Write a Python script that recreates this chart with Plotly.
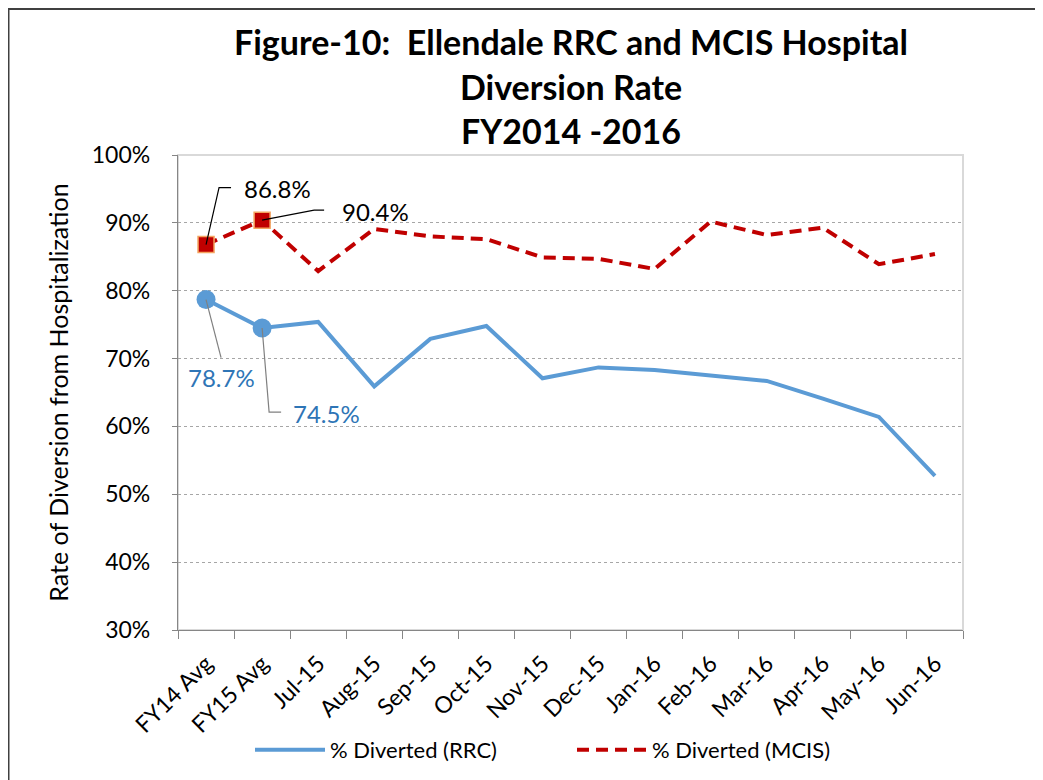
import plotly.graph_objects as go

categories = ["FY14 Avg", "FY15 Avg", "Jul-15", "Aug-15", "Sep-15", "Oct-15", "Nov-15",
              "Dec-15", "Jan-16", "Feb-16", "Mar-16", "Apr-16", "May-16", "Jun-16"]
rrc = [78.7, 74.5, 75.4, 65.9, 72.9, 74.8, 67.1, 68.7, 68.3, 67.5, 66.7, 64.1, 61.4, 52.7]
mcis = [86.8, 90.4, 82.9, 89.1, 88.0, 87.6, 84.9, 84.7, 83.2, 90.2, 88.2, 89.3, 83.9, 85.4]
y_ticks = [30, 40, 50, 60, 70, 80, 90, 100]
title_lines = ["Figure-10:\u00a0 Ellendale RRC and MCIS Hospital", "Diversion Rate", "FY2014 -2016"]

BLUE = "#5B9BD5"
RED = "#C00000"
FONT = "Lato"

# page body has an 8px margin; figure is sized/positioned to compensate
OFF = 8
W, H = 1043 - OFF, 780 - OFF
L, T = 178 - OFF, 155 - OFF
PW, PH = 785, 475
R, B = W - L - PW, H - T - PH


def py(abs_y):
    """absolute page y (px) -> paper y"""
    return 1 - (abs_y - OFF - T) / PH


def px(abs_x):
    return (abs_x - OFF - L) / PW


fig = go.Figure()
fig.add_trace(go.Scatter(x=categories, y=rrc, mode="lines", name="% Diverted (RRC)",
                         line=dict(color=BLUE, width=4)))
fig.add_trace(go.Scatter(x=categories, y=mcis, mode="lines", name="% Diverted (MCIS)",
                         line=dict(color=RED, width=4, dash="12px,7px")))
fig.add_trace(go.Scatter(x=categories[:2], y=rrc[:2], mode="markers", showlegend=False,
                         marker=dict(symbol="circle", size=19, color=BLUE)))
fig.add_trace(go.Scatter(x=categories[:2], y=mcis[:2], mode="markers", showlegend=False,
                         marker=dict(symbol="square", size=16, color=RED,
                                     line=dict(color="#F4A460", width=1.5))))

labels = [
    (mcis, 0, "#000000", "#000000", "M0,0 L13,57 L25,57", 36, 56, "left"),
    (mcis, 1, "#000000", "#000000", "M0,0 L52,10 L62,10", 78, 9, "left"),
    (rrc, 0, "#2E75B6", "#808080", "M0,0 L15,-58", 15, -78, "center"),
    (rrc, 1, "#2E75B6", "#808080", "M0,0 L7,-84 L19,-84", 29, -85, "left"),
]
shapes = []
annotations = []
for vals, i, tcol, lcol, path, xs, ys, xa in labels:
    shapes.append(dict(type="path", xref="x", yref="y", xsizemode="pixel", ysizemode="pixel",
                       xanchor=categories[i], yanchor=vals[i], path=path,
                       line=dict(color=lcol, width=1.2), layer="above"))
    annotations.append(dict(x=categories[i], y=vals[i], xref="x", yref="y", showarrow=False,
                            text=f"{vals[i]:.1f}%", xshift=xs, yshift=ys, xanchor=xa,
                            yanchor="middle", font=dict(family=FONT, size=24, color=tcol)))

# title lines
for txt, yc in zip(title_lines, [41, 86, 130]):
    annotations.append(dict(x=0.5, y=py(yc), xref="paper", yref="paper", showarrow=False,
                            text=txt, xanchor="center", yanchor="middle",
                            font=dict(family=FONT, size=34, color="#000000", weight="bold")))

# plot area border (light gray)
shapes.append(dict(type="rect", xref="paper", yref="paper", x0=0, x1=1, y0=0, y1=1,
                   line=dict(color="#D9D9D9", width=2), layer="below"))
# outer chart border (top and left visible)
bx = px(8.5)
by_top = py(OFF + 1)
by_bot = py(800)
bx_right = px(1050)
shapes.append(dict(type="path", xref="paper", yref="paper",
                   path=f"M{bx},{by_bot} L{bx},{by_top} L{bx_right},{by_top}",
                   line=dict(color="#404040", width=2)))

fig.update_layout(
    width=W, height=H,
    margin=dict(l=L, r=R, t=T, b=B, autoexpand=False),
    paper_bgcolor="white", plot_bgcolor="white",
    font=dict(family=FONT, color="#000000"),
    showlegend=True,
    legend=dict(orientation="h", x=px(572), xanchor="center", y=py(750),
                yanchor="middle", font=dict(family=FONT, size=22, color="#000000"),
                itemwidth=70, entrywidth=237, bgcolor="rgba(0,0,0,0)"),
    shapes=shapes,
    annotations=annotations,
)
fig.update_xaxes(type="category", range=[-0.5, len(categories) - 0.5], tickson="boundaries",
                 ticks="outside", ticklen=8, tickcolor="#868686", tickwidth=1.3,
                 showline=True, linecolor="#868686", linewidth=1.3, showgrid=False,
                 tickangle=-45, ticklabelstandoff=10, automargin=False,
                 tickfont=dict(family=FONT, size=23, color="#000000"))
fig.update_yaxes(range=[30, 100], tickmode="array", tickvals=y_ticks,
                 ticktext=[f"{v}%" for v in y_ticks], ticks="outside", ticklen=5,
                 tickcolor="#868686", tickwidth=1.3, showline=True, linecolor="#868686",
                 linewidth=1.3, showgrid=True, gridcolor="#A6A6A6", griddash="dot", gridwidth=1.2,
                 zeroline=False, tickfont=dict(family=FONT, size=23, color="#000000"),
                 ticklabelstandoff=17, automargin=False,
                 title=dict(text="Rate of Diversion from Hospitalization", standoff=16,
                            font=dict(family=FONT, size=25, color="#000000")))

fig.write_html("out.html")
